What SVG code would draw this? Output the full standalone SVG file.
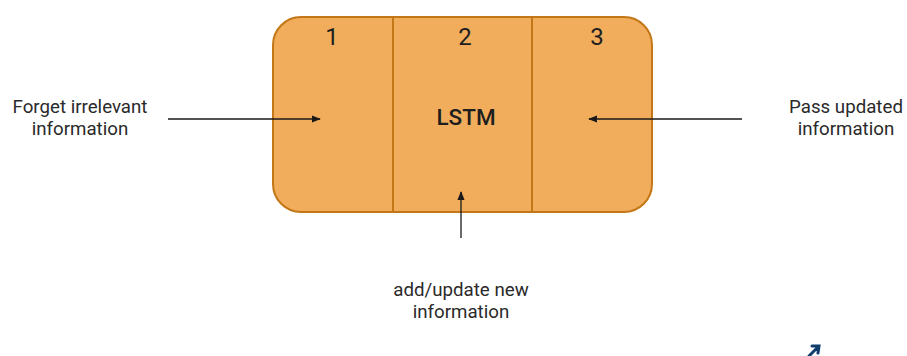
<svg xmlns="http://www.w3.org/2000/svg" width="907" height="356" viewBox="0 0 907 356">
  <style>
    .label { font-family: Roboto, "Liberation Sans", sans-serif; font-size: 18.7px; fill: #2a2a2a; text-anchor: middle; }
    .num { font-family: Roboto, "Liberation Sans", sans-serif; font-size: 24px; fill: #1e1e1e; text-anchor: middle; }
    .title { font-family: Roboto, "Liberation Sans", sans-serif; font-size: 22.5px; font-weight: 500; fill: #1e1e1e; text-anchor: middle; }
    .cell { fill: #f1ad5c; stroke: #c47716; stroke-width: 2; }
    .divider { stroke: #c47716; stroke-width: 2; }
    .conn { stroke: #1a1a1a; stroke-width: 1.3; fill: none; marker-end: url(#head); }
  </style>
  <defs>
    <marker id="head" viewBox="0 0 10 10" refX="9" refY="5" markerWidth="9" markerHeight="9" markerUnits="userSpaceOnUse" orient="auto">
      <path d="M0,1 L10,5 L0,9 Z" fill="#1a1a1a"/>
    </marker>
  </defs>
  <rect width="907" height="356" fill="#ffffff"/>

  <!-- LSTM cell split into three gates -->
  <g id="lstm">
    <rect class="cell" x="273" y="17" width="379" height="195" rx="28" ry="28"/>
    <line class="divider" x1="393" y1="17" x2="393" y2="212"/>
    <line class="divider" x1="532" y1="17" x2="532" y2="212"/>
    <text class="title" x="466" y="125">LSTM</text>
  </g>
  <g id="gate1"><text class="num" x="332" y="45">1</text></g>
  <g id="gate2"><text class="num" x="465" y="45">2</text></g>
  <g id="gate3"><text class="num" x="597" y="45">3</text></g>

  <!-- side labels -->
  <g id="forget">
    <text class="label" x="80" y="113">Forget irrelevant</text>
    <text class="label" x="80" y="135">information</text>
  </g>
  <g id="pass">
    <text class="label" x="846" y="113">Pass updated</text>
    <text class="label" x="846" y="135">information</text>
  </g>
  <g id="add">
    <text class="label" x="461" y="296">add/update new</text>
    <text class="label" x="461" y="318">information</text>
  </g>

  <!-- connectors -->
  <g id="connectors">
    <line class="conn" x1="168" y1="119" x2="320" y2="119"/>
    <line class="conn" x1="742" y1="119" x2="589" y2="119"/>
    <line class="conn" x1="461" y1="238" x2="461" y2="192"/>
  </g>

  <!-- corner mark -->
  <path d="M809,356 L818,347 M812,346 L819,346 L818,353" stroke="#123e6e" stroke-width="3" fill="none" stroke-linecap="round"/>
</svg>
